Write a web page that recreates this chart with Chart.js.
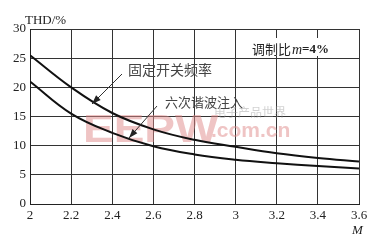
<!DOCTYPE html>
<html><head><meta charset="utf-8">
<script src="https://cdn.jsdelivr.net/npm/chart.js@4.4.1/dist/chart.umd.min.js"></script>
<style>html,body{margin:0;padding:0;background:#fff}#wrap{width:377px;height:244px}</style>
</head><body><div id="wrap"><canvas id="c" width="377" height="244"></canvas></div>
<script>
const mValues = [2.0, 2.2, 2.4, 2.6, 2.8, 3.0, 3.2, 3.4, 3.6];
const fixedFreqTHD = [25.5, 20.0, 15.6, 12.8, 11.0, 9.8, 8.7, 7.9, 7.3];
const sixthHarmTHD = [21.0, 15.5, 12.2, 9.9, 8.5, 7.6, 7.0, 6.5, 6.1];
const seriesNames = ['固定开关频率', '六次谐波注入'];
const yTitle = 'THD/%';
const xTitle = 'M';
const noteText = ['调制比', 'm', '=4%'];

const serif = '"Liberation Serif", "DejaVu Serif", serif';
const cjk = '"Noto Sans CJK SC", sans-serif';

function arrow(ctx, x1, y1, x2, y2) {
  ctx.save();
  ctx.strokeStyle = '#333'; ctx.fillStyle = '#222'; ctx.lineWidth = 1;
  ctx.beginPath(); ctx.moveTo(x1, y1); ctx.lineTo(x2, y2); ctx.stroke();
  const a = Math.atan2(y2 - y1, x2 - x1), L = 9, w = 3.2;
  ctx.beginPath();
  ctx.moveTo(x2, y2);
  ctx.lineTo(x2 - L*Math.cos(a) + w*Math.sin(a), y2 - L*Math.sin(a) - w*Math.cos(a));
  ctx.lineTo(x2 - L*Math.cos(a) - w*Math.sin(a), y2 - L*Math.sin(a) + w*Math.cos(a));
  ctx.closePath(); ctx.fill();
  ctx.restore();
}

const watermark = {
  id: 'watermark',
  beforeDatasetsDraw(chart) {
    const ctx = chart.ctx;
    ctx.save();
    ctx.globalAlpha = 0.5;
    ctx.fillStyle = '#e08a8a';
    ctx.font = 'bold 46px "Liberation Sans", sans-serif';
    ctx.textBaseline = 'alphabetic';
    ctx.save();
    ctx.translate(83, 142);
    ctx.scale(1.0, 0.85);
    ctx.fillText('EEPW', 0, 0);
    ctx.restore();
    ctx.font = 'bold 21px "Liberation Sans", sans-serif';
    ctx.fillText('.com.cn', 211, 137);
    ctx.globalAlpha = 0.45;
    ctx.fillStyle = '#999';
    ctx.font = '12px ' + cjk;
    ctx.textBaseline = 'middle';
    ctx.fillText('电子产品世界', 214, 112);
    ctx.restore();
  }
};

const annot = {
  id: 'annot',
  afterDraw(chart) {
    const ctx = chart.ctx;
    ctx.save();
    ctx.fillStyle = '#fff';
    ctx.fillRect(236, 38, 103, 18);
    ctx.fillStyle = '#222';
    ctx.textBaseline = 'middle';
    ctx.font = '13px ' + cjk;
    let x = 252;
    ctx.fillText(noteText[0], x, 49); x += ctx.measureText(noteText[0]).width + 1;
    ctx.font = 'italic 14px ' + serif;
    ctx.fillText(noteText[1], x, 50); x += ctx.measureText(noteText[1]).width;
    ctx.font = 'bold 13px ' + serif;
    ctx.fillText(noteText[2], x, 50);
    ctx.fillStyle = '#444';
    ctx.font = '14px ' + cjk;
    ctx.fillText(seriesNames[0], 128, 70);
    ctx.font = '13px ' + cjk;
    ctx.fillText(seriesNames[1], 165, 102);
    arrow(ctx, 122, 74, 92, 104);
    arrow(ctx, 157, 106, 129, 138);
    ctx.fillStyle = '#222';
    ctx.font = '13px ' + serif;
    ctx.fillText(yTitle, 25, 21);
    ctx.font = 'italic 13px ' + serif;
    ctx.fillText(xTitle, 352, 231);
    ctx.restore();
  }
};

new Chart(document.getElementById('c'), {
  type: 'line',
  data: {
    datasets: [
      { label: seriesNames[0], data: mValues.map((m, i) => ({x: m, y: fixedFreqTHD[i]})),
        borderColor: '#111', borderWidth: 2, pointRadius: 0, tension: 0.4, fill: false },
      { label: seriesNames[1], data: mValues.map((m, i) => ({x: m, y: sixthHarmTHD[i]})),
        borderColor: '#111', borderWidth: 2, pointRadius: 0, tension: 0.4, fill: false }
    ]
  },
  options: {
    responsive: false, animation: false, devicePixelRatio: 1,
    layout: { padding: { top: 29, right: 18, left: 0, bottom: 0 } },
    plugins: { legend: { display: false }, tooltip: { enabled: false } },
    scales: {
      x: {
        type: 'linear', min: 2, max: 3.6,
        afterFit(s) { s.height = 40; },
        afterBuildTicks(s) { s.ticks = mValues.map(v => ({value: v})); },
        ticks: { color: '#222', font: { family: serif, size: 13 }, padding: 4,
                 callback: v => String(Math.round(v * 10) / 10) },
        grid: { color: '#333', lineWidth: 1, drawTicks: false },
        border: { color: '#222', width: 1 }
      },
      y: {
        min: 0, max: 30,
        afterFit(s) { s.width = 30; },
        ticks: { stepSize: 5, color: '#222', font: { family: serif, size: 13 }, padding: 4 },
        grid: { color: '#333', lineWidth: 1, drawTicks: false },
        border: { color: '#222', width: 1 }
      }
    }
  },
  plugins: [watermark, annot]
});
</script></body></html>
